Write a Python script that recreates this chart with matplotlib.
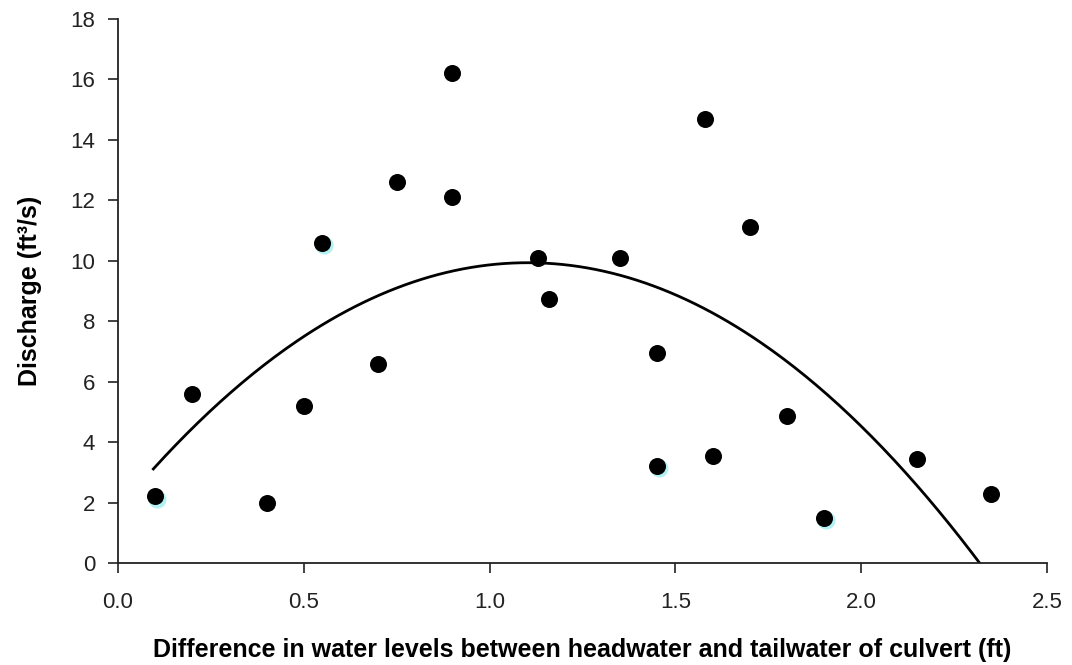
import matplotlib
matplotlib.use('Agg')
import matplotlib.pyplot as plt
import matplotlib.transforms as mtransforms
import numpy as np

plt.rcParams['font.family'] = ['Liberation Sans', 'DejaVu Sans']

# head difference (ft) and discharge (ft3/s)
head_diff = [0.1, 0.2, 0.4, 0.5, 0.55, 0.7, 0.75, 0.9, 0.9, 1.13, 1.16,
             1.35, 1.45, 1.45, 1.58, 1.6, 1.7, 1.8, 1.9, 2.15, 2.35]
discharge = [2.2, 5.6, 2.0, 5.2, 10.6, 6.6, 12.6, 16.2, 12.1, 10.1, 8.75,
             10.1, 6.95, 3.2, 14.7, 3.55, 11.1, 4.85, 1.5, 3.45, 2.28]
# points that show a cyan halo in the original
halo_x = [0.1, 0.55, 1.45, 1.9]
halo_y = [2.2, 10.6, 3.2, 1.5]

# quadratic trendline coefficients (a*x^2 + b*x + c), range of the line
trend_coef = [-6.72, 14.82, 1.764]
trend_range = [0.095, 2.319]

fig = plt.figure(figsize=(10.72, 6.65), dpi=100)
ax = fig.add_axes([0.1101, 0.1534, 0.8666, 0.8181])

shift = mtransforms.offset_copy(ax.transData, fig=fig, x=1.2, y=-1.5, units='points')
ax.scatter(halo_x, halo_y, s=170, color='#7fe8e8', alpha=0.6, lw=0,
           transform=shift, zorder=2)
ax.scatter(head_diff, discharge, s=150, color='black', lw=0, zorder=3)

xs = np.linspace(trend_range[0], trend_range[1], 300)
ax.plot(xs, np.polyval(trend_coef, xs), color='black', lw=2.0, zorder=2)

ax.set_xlim(0, 2.5)
ax.set_ylim(0, 18)
ax.set_xticks(np.arange(0, 2.51, 0.5))
ax.set_yticks(np.arange(0, 19, 2))
ax.xaxis.set_major_formatter(matplotlib.ticker.FormatStrFormatter('%.1f'))
for s in ['top', 'right']:
    ax.spines[s].set_visible(False)
for s in ['left', 'bottom']:
    ax.spines[s].set_linewidth(1.3)
    ax.spines[s].set_color('#222222')
ax.tick_params(direction='out', length=7, width=1.2, color='#222222',
               labelsize=16, labelcolor='#222222')
ax.tick_params(axis='y', pad=9.5)
ax.tick_params(axis='x', pad=14)

ax.set_xlabel('Difference in water levels between headwater and tailwater of culvert (ft)',
              fontsize=18, fontweight='bold', labelpad=18)
ax.set_ylabel('Discharge (ft³/s)', fontsize=18, fontweight='bold', labelpad=20)

fig.savefig('out.png', dpi=100)
plt.close(fig)
